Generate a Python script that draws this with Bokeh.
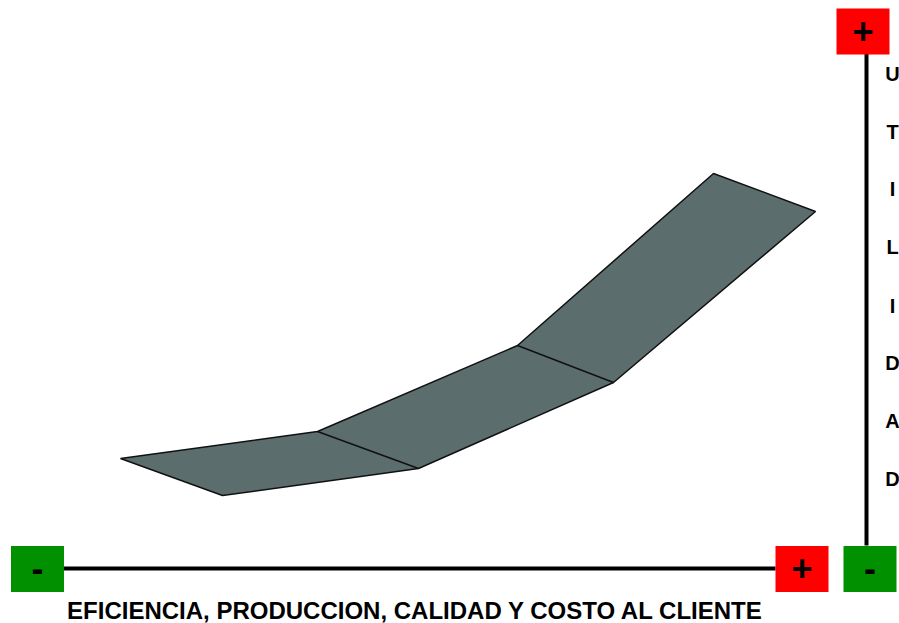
from bokeh.plotting import figure
from bokeh.models import Range1d
from bokeh.core.properties import value
from bokeh.embed import file_html
from bokeh.resources import INLINE

# Chart coordinates (x to the right, y upward); the page is 899 x 623
W, H = 899, 623

# Band (utility vs. efficiency curve): upper edge then lower edge
upper_x = [120, 317, 517, 713]
upper_y = [165, 192, 278, 450]
lower_x = [222, 418, 613, 815]
lower_y = [128, 155, 241, 412]

# Axis labels
x_label = "EFICIENCIA, PRODUCCION, CALIDAD Y COSTO AL CLIENTE"
y_letters = ["U", "T", "I", "L", "I", "D", "A", "D"]
y_letter_pos = [550, 492, 435, 377, 318, 261, 203, 145]

# Sign boxes: centre x, centre y, label, colour
box_x = [37, 801.5, 869.5, 862.5]
box_y = [54.5, 54.5, 54.5, 592]
box_label = ["-", "+", "-", "+"]
box_color = ["#009000", "#ff0000", "#009000", "#ff0000"]

p = figure(width=W, height=H, output_backend="svg", toolbar_location=None,
           x_range=Range1d(0, W), y_range=Range1d(0, H),
           min_border=0, outline_line_color=None)
p.axis.visible = False
p.grid.visible = False
p.background_fill_color = "white"
p.border_fill_color = "white"

# band polygon
poly_x = upper_x + lower_x[::-1]
poly_y = upper_y + lower_y[::-1]
p.patch(poly_x, poly_y, fill_color="#5b6d6d", line_color="#111111", line_width=1.5)
# internal fold lines
p.segment(x0=upper_x[1:3], y0=upper_y[1:3], x1=lower_x[1:3], y1=lower_y[1:3],
          line_color="#111111", line_width=1.5)

# axes lines
p.segment(x0=[63], y0=[55], x1=[775], y1=[55], line_color="black", line_width=4)
p.segment(x0=[866], y0=[78], x1=[866], y1=[570], line_color="black", line_width=4)

# boxes
p.rect(x=box_x, y=box_y, width=53, height=46, fill_color=box_color, line_color=None)
p.text(x=box_x, y=[v + 1 for v in box_y], text=box_label, text_align="center",
       text_baseline="middle", text_font=value("Liberation Sans"), text_font_style="bold",
       text_font_size="36px", text_color="black")

# labels
p.text(x=[415], y=[13], text=[x_label], text_align="center", text_baseline="middle",
       text_font=value("Liberation Sans"), text_font_style="bold", text_font_size="24px",
       text_color="black")
p.text(x=[892] * len(y_letters), y=y_letter_pos, text=y_letters, text_align="center",
       text_baseline="middle", text_font=value("Liberation Sans"), text_font_style="bold",
       text_font_size="20px", text_color="black")

open("out.html", "w").write(file_html(p, INLINE))
